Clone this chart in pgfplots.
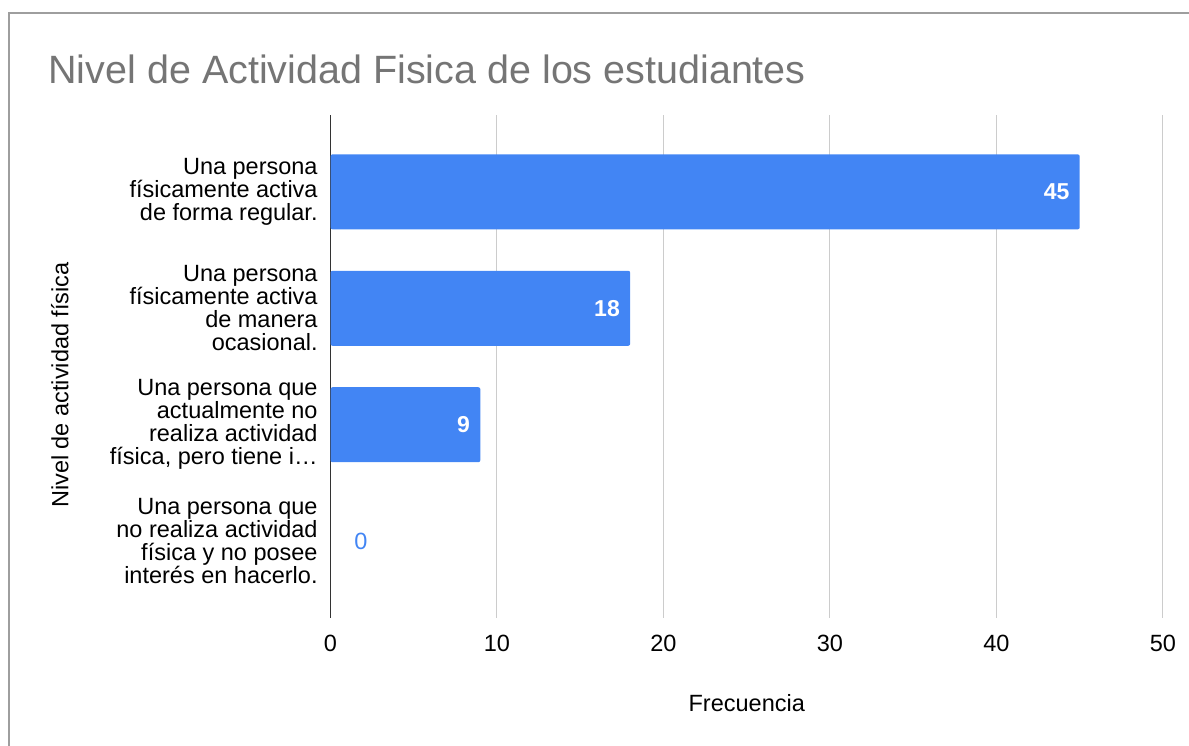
\documentclass[border=0pt]{standalone}
\usepackage{fontspec}
\setmainfont{Liberation Sans}
\usepackage{pgfplots}
\pgfplotsset{compat=1.18}
\definecolor{barblue}{HTML}{4285F4}
\definecolor{titlegray}{HTML}{757575}
\definecolor{gridgray}{HTML}{CCCCCC}
\definecolor{framegray}{HTML}{9E9E9E}
\definecolor{axisdark}{HTML}{333333}
\begin{document}
\begin{tikzpicture}
\useasboundingbox (0,0) rectangle (594.5pt,372.5pt);
\draw[framegray, line width=1pt] (4.5pt,-1pt) -- (4.5pt,366pt) -- (596pt,366pt);
\node[anchor=base west, inner sep=0, text=titlegray, font=\fontsize{19.75}{24}\selectfont] at (24pt,330.5pt) {Nivel de Actividad Fisica de los estudiantes};
\begin{axis}[
  at={(165.25pt,63.5pt)}, anchor=south west,
  scale only axis, width=416.25pt, height=251.5pt,
  xmin=0, xmax=50, ymin=-0.66, ymax=3.66, y dir=reverse,
  xtick={0,10,...,50}, ytick={0,1,2,3},
  yticklabels={{Una persona\\físicamente activa\\de forma regular.},
               {Una persona\\físicamente activa\\de manera\\ocasional.},
               {Una persona que\\actualmente no\\realiza actividad\\física, pero tiene i…},
               {Una persona que\\no realiza actividad\\física y no posee\\interés en hacerlo.}},
  xmajorgrids, major grid style={gridgray, line width=0.5pt},
  axis lines*=left, x axis line style={draw=none},
  y axis line style={axisdark, line width=0.8pt, -},
  major tick length=0pt,
  /pgf/number format/assume math mode=true,
  tick label style={font=\fontsize{11.75}{11.5}\selectfont},
  xticklabel style={anchor=north, inner sep=0pt, yshift=-8.3pt},
  yticklabel style={anchor=east, inner sep=0pt, xshift=-6.25pt, align=right},
  xlabel={Frecuencia}, ylabel={Nivel de actividad física},
  label style={font=\fontsize{11.75}{14}\selectfont},
  xlabel style={at={(axis description cs:0.5,-0.169)}, anchor=center},
  ylabel style={at={(axis description cs:-0.325,0.463)}, anchor=center},
]
\addplot[xbar, bar width=0.644, bar shift=0pt, fill=barblue, draw=none, rounded corners=1pt,
  point meta=x, nodes near coords,
  nodes near coords style={anchor=east, xshift=-5pt, inner sep=0pt, text=white, font=\bfseries\fontsize{11.5}{13}\selectfont}]
  coordinates {(45,0) (18,1) (9,2)};
\addplot[draw=none, mark=none, point meta=x, nodes near coords,
  nodes near coords style={anchor=west, xshift=11.75pt, inner sep=0pt, text=barblue, font=\fontsize{11.75}{13}\selectfont}]
  coordinates {(0,3)};
\end{axis}
\end{tikzpicture}
\end{document}
